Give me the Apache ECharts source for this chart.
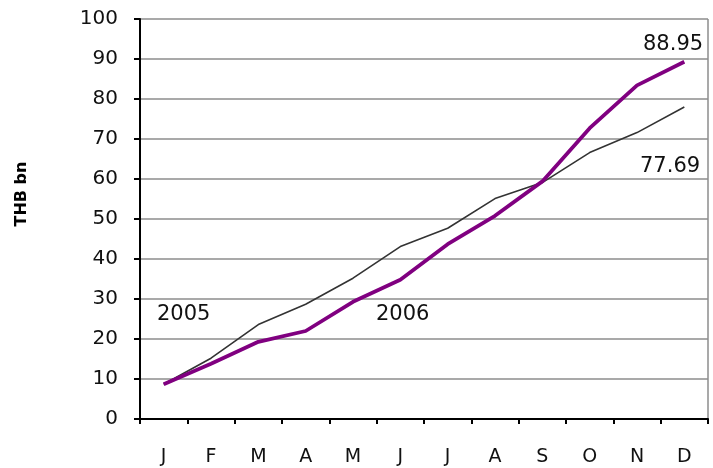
<!DOCTYPE html>
<html><head><meta charset="utf-8">
<script src="https://cdn.jsdelivr.net/npm/echarts@6/dist/echarts.min.js"></script>
<style>html,body{margin:0;padding:0;background:#fff}#c{width:713px;height:468px}</style>
</head><body><div id="c"></div>
<script>
var months = ['J','F','M','A','M','J','J','A','S','O','N','D'];
var values2005 = [8.7, 15.2, 23.6, 28.7, 35.2, 43.1, 47.7, 55.1, 59.1, 66.6, 71.6, 78.0];
var values2006 = [8.7, 13.8, 19.3, 22.0, 29.3, 34.8, 43.7, 50.8, 59.4, 72.7, 83.4, 89.3];
var yTicks = {min: 0, max: 100, interval: 10};
var yName = 'THB bn';
var annotations = [
  {text: '2005', x: 157, y: 314},
  {text: '2006', x: 376, y: 314},
  {text: '88.95', x: 643, y: 44},
  {text: '77.69', x: 640, y: 166}
];
var FONT = 'DejaVu Sans';
var chart = echarts.init(document.getElementById('c'), null, {renderer: 'canvas'});
var graphics = annotations.map(function(a){
  return {type: 'text', x: a.x, y: a.y + 1, style: {text: a.text, font: '21px "' + FONT + '"', fill: '#111', verticalAlign: 'middle'}};
});
graphics.push({type: 'text', x: 14, y: 194, rotation: Math.PI/2, style: {text: yName, font: 'bold 16px "' + FONT + '"', fill: '#000', align: 'center', verticalAlign: 'top'}});
graphics.push({type: 'line', shape: {x1: 708, y1: 19, x2: 708, y2: 419}, style: {stroke: '#8c8c8c', lineWidth: 1.5}});
chart.setOption({
  animation: false,
  grid: {left: 140, right: 5, top: 19, bottom: 49},
  xAxis: {
    type: 'category', data: months, boundaryGap: true,
    axisLine: {lineStyle: {color: '#000', width: 2}},
    axisTick: {show: true, length: 5, lineStyle: {color: '#000', width: 2}},
    axisLabel: {margin: 29, fontFamily: FONT, fontSize: 19, color: '#111'},
    splitLine: {show: false}
  },
  yAxis: {
    type: 'value', min: yTicks.min, max: yTicks.max, interval: yTicks.interval,
    axisLine: {show: true, lineStyle: {color: '#000', width: 2}},
    axisTick: {show: true, length: 6, lineStyle: {color: '#000', width: 2}},
    axisLabel: {margin: 22, fontFamily: FONT, fontSize: 20, color: '#111'},
    splitLine: {show: true, lineStyle: {color: '#8c8c8c', width: 1.5}}
  },
  series: [
    {name: '2005', type: 'line', data: values2005, symbol: 'none', lineStyle: {color: '#333', width: 1.6}, z: 3},
    {name: '2006', type: 'line', data: values2006, symbol: 'none', lineStyle: {color: '#800080', width: 3.8}, z: 4}
  ],
  graphic: graphics
});
</script></body></html>
